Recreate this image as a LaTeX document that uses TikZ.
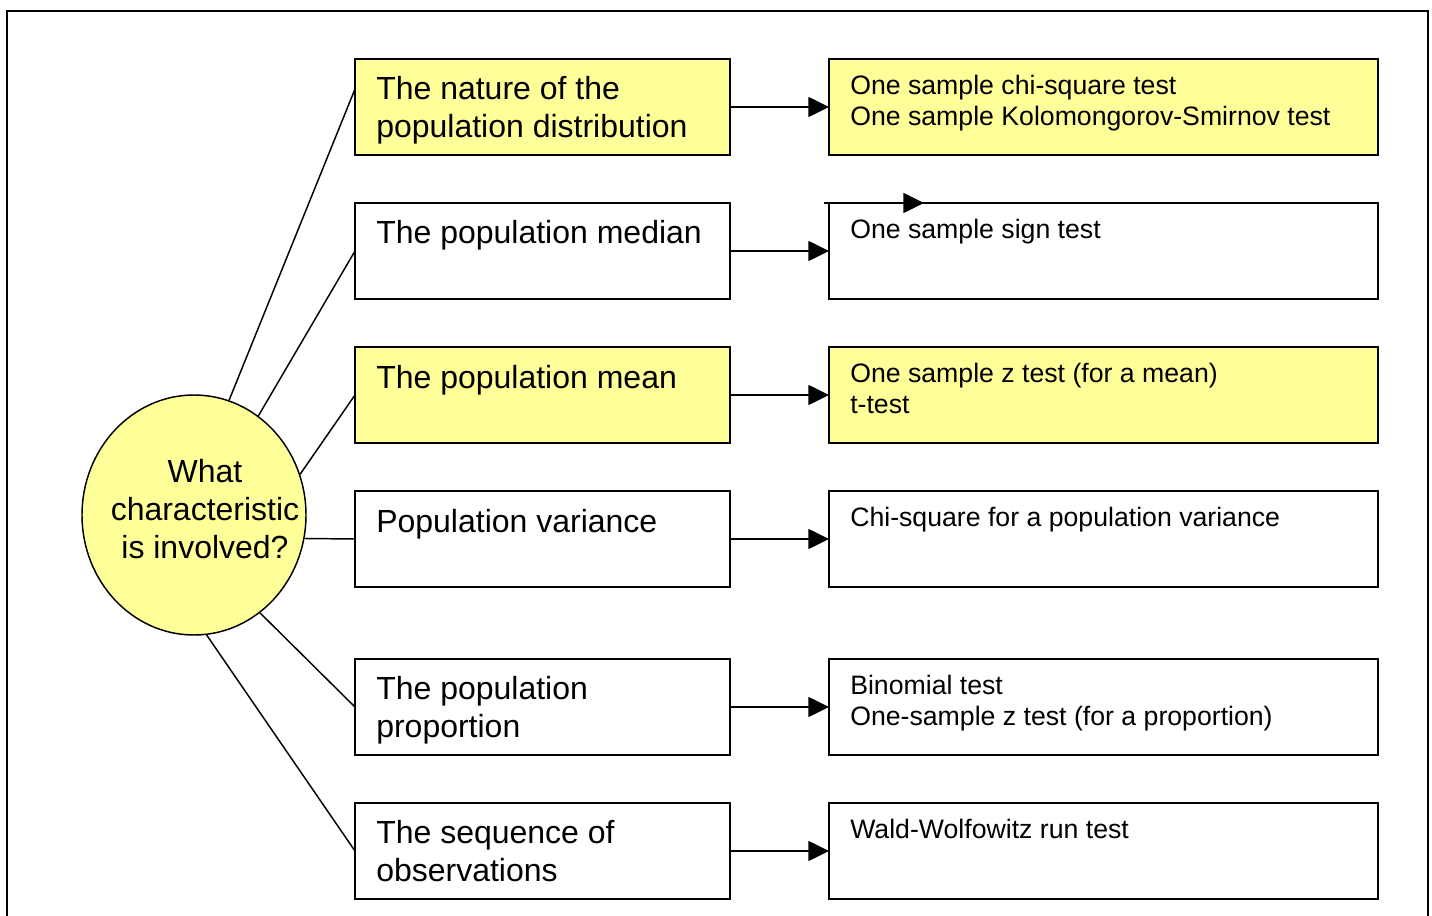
\documentclass[tikz,border=0pt]{standalone}
\usepackage{fontspec}
\setmainfont{Liberation Sans}
\usetikzlibrary{arrows.meta,shapes.geometric}
\definecolor{paleyellow}{HTML}{FFFF99}

\begin{document}
\begin{tikzpicture}[x=0.75pt,y=-0.75pt,
  frame/.style={line width=1.5pt},
  cbox/.style={draw, line width=1.1pt, inner sep=0pt, outer sep=0pt, anchor=north west},
  qbox/.style={cbox, minimum width=281.25pt, minimum height=72pt},
  tbox/.style={cbox, minimum width=411.75pt, minimum height=72pt},
  hl/.style={fill=paleyellow},
  qtxt/.style={anchor=base west, align=left, inner sep=0pt, font=\fontsize{24}{28.2}\selectfont},
  ttxt/.style={anchor=base west, align=left, inner sep=0pt, font=\fontsize{20}{23}\selectfont},
  link/.style={line width=1.1pt},
  flow/.style={line width=1.1pt, -{Triangle[length=15.5pt,width=15pt]}},
]
\useasboundingbox (0,0) rectangle (1432,916);

% outer frame (open at the bottom)
\draw[frame] (7,918) -- (7,11) -- (1428,11) -- (1428,918);

% central question
\node[ellipse, draw, fill=paleyellow, line width=1.1pt, minimum width=168pt,
      minimum height=180pt, inner sep=0pt] (q) at (194,515) {};
\node[align=center, inner sep=0pt, font=\fontsize{24}{28.2}\selectfont] (qt) at (205,509)
  {What\\characteristic\\is involved?};

% characteristics
\node[qbox, hl] (b1) at (355,59) {};
\node[qbox]     (b2) at (355,203) {};
\node[qbox, hl] (b3) at (355,347) {};
\node[qbox]     (b4) at (355,491) {};
\node[qbox]     (b5) at (355,659) {};
\node[qbox]     (b6) at (355,803) {};

% tests
\node[tbox, hl] (r1) at (829,59) {};
\node[tbox]     (r2) at (829,203) {};
\node[tbox, hl] (r3) at (829,347) {};
\node[tbox]     (r4) at (829,491) {};
\node[tbox]     (r5) at (829,659) {};
\node[tbox]     (r6) at (829,803) {};

% labels of the characteristics (placed by the baseline of the last line)
\node[qtxt] (l1) at (376,137.5) {The nature of the\\population distribution};
\node[qtxt] (l2) at (376,244) {The population median};
\node[qtxt] (l3) at (376,388) {The population mean};
\node[qtxt] (l4) at (376,532) {Population variance};
\node[qtxt] (l5) at (376,737.5) {The population\\proportion};
\node[qtxt] (l6) at (376,881.5) {The sequence of\\observations};

% labels of the tests (placed by the baseline of the last line)
\node[ttxt] (m1) at (850,125.2) {One sample chi-square test\\One sample Kolomongorov-Smirnov test};
\node[ttxt] (m2) at (850,238.5) {One sample sign test};
\node[ttxt] (m3) at (850,413.2) {One sample z test (for a mean)\\t-test};
\node[ttxt] (m4) at (850,526.5) {Chi-square for a population variance};
\node[ttxt] (m5) at (850,725.2) {Binomial test\\One-sample z test (for a proportion)};
\node[ttxt] (m6) at (850,838.5) {Wald-Wolfowitz run test};

% spokes from the question
\coordinate (c1) at (355,89);
\draw[link] (q.73)     -- (c1);
\draw[link] (q.57)     -- (b2.west);
\draw[link] (q.21)     -- (b3.west);
\draw[link] (q.-12.23) -- (b4.west);
\draw[link] (q.-56.4)  -- (b5.west);
\draw[link] (q.-84.8)  -- (b6.west);

% arrows to the tests
\draw[flow] (b1.east) -- (r1.west);
\draw[flow] (b2.east) -- (r2.west);
\draw[flow] (b3.east) -- (r3.west);
\draw[flow] (b4.east) -- (r4.west);
\draw[flow] (b5.east) -- (r5.west);
\draw[flow] (b6.east) -- (r6.west);

% loose arrow on top of the sign-test box
\coordinate (s0) at (824,203);
\coordinate (s1) at (924,203);
\draw[flow] (s0) -- (s1);
\end{tikzpicture}
\end{document}
